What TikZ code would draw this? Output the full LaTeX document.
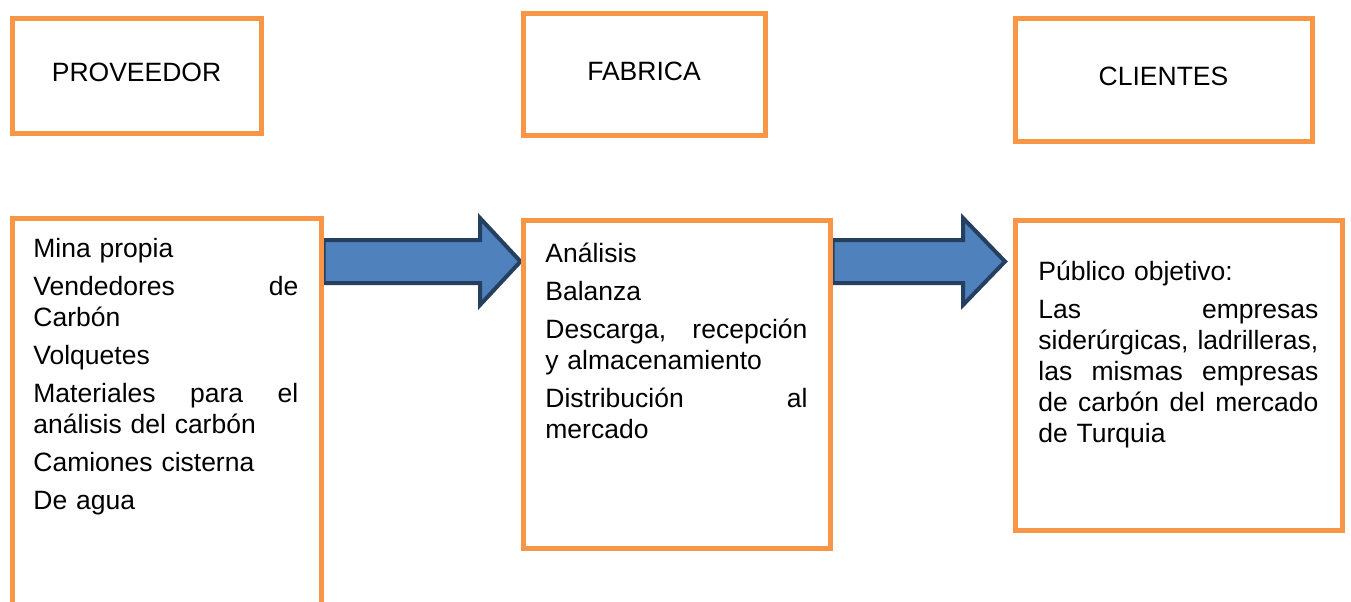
\documentclass[tikz,border=0pt]{standalone}
\usepackage{fontspec}
\setmainfont{Liberation Sans}
\usetikzlibrary{backgrounds}
\definecolor{boxorange}{HTML}{F79646}
\definecolor{arrowfill}{HTML}{4F81BD}
\definecolor{arrowline}{HTML}{243F60}
\newcommand\jline[1]{\leavevmode\hbox to\linewidth{#1}}
\tikzset{
  obox/.style={draw=boxorange, line width=2.5pt, fill=white, inner sep=0pt, rectangle},
  ttext/.style={font=\fontsize{13.25pt}{15.5pt}\selectfont, text depth=3pt},
  btext/.style={font=\fontsize{13.25pt}{15.5pt}\selectfont, align=left, inner sep=0pt, anchor=base west},
  blockarrow/.style={draw=arrowline, fill=arrowfill, line width=2pt, line join=miter}
}
\begin{document}
\begin{tikzpicture}[x=0.5pt,y=-0.5pt]
\useasboundingbox (0,0) rectangle (1351,601);
\clip (0,0) rectangle (1351,601);
% top boxes
\node[obox, ttext, minimum width=124.5pt, minimum height=57.5pt] (prov) at (136.5,75.5) {PROVEEDOR};
\node[obox, ttext, minimum width=121pt, minimum height=61pt] (fab) at (644,74) {FABRICA};
\node[obox, ttext, minimum width=148.5pt, minimum height=61.5pt] (cli) at (1163.5,79.5) {CLIENTES};
% bottom boxes
\node[obox, minimum width=154.5pt, minimum height=211pt] (provB) at (166.5,429) {};
\node[obox, minimum width=153.5pt, minimum height=164pt] (fabB) at (676.5,384) {};
\node[obox, minimum width=163.5pt, minimum height=155pt] (cliB) at (1178.5,375) {};
% texts
\node[btext, text width=132.5pt] (provT) at (33,257) {%
Mina propia\\[3.5pt]
\jline{Vendedores\hfill de}\\
Carbón\\[3.5pt]
Volquetes\\[3.5pt]
\jline{Materiales\hfill para\hfill el}\\
análisis del carbón\\[3.5pt]
Camiones cisterna\\[3.5pt]
De agua};
\node[btext, text width=131pt] (fabT) at (545,262) {%
Análisis\\[3.5pt]
Balanza\\[3.5pt]
\jline{Descarga,\hfill recepción}\\
y almacenamiento\\[3.5pt]
\jline{Distribución\hfill al}\\
mercado};
\node[btext, text width=140pt] (cliT) at (1038,280) {%
Público objetivo:\\[3.5pt]
\jline{Las\hfill empresas}\\
\jline{siderúrgicas,\hfill ladrilleras,}\\
\jline{las\hfill mismas\hfill empresas}\\
\jline{de\hfill carbón\hfill del\hfill mercado}\\
de Turquia};
% block arrows
\begin{pgfonlayer}{background}
\draw[blockarrow] (provB.east |- 0,240) -- (480,240) -- (480,218) -- (fabB.west |- 0,261.5) -- (480,305) -- (480,283) -- (provB.east |- 0,283) -- cycle;
\draw[blockarrow] (fabB.east |- 0,240) -- (963,240) -- (963,218) -- (1005,261.5) -- (963,305) -- (963,283) -- (fabB.east |- 0,283) -- cycle;
\end{pgfonlayer}
\end{tikzpicture}
\end{document}
